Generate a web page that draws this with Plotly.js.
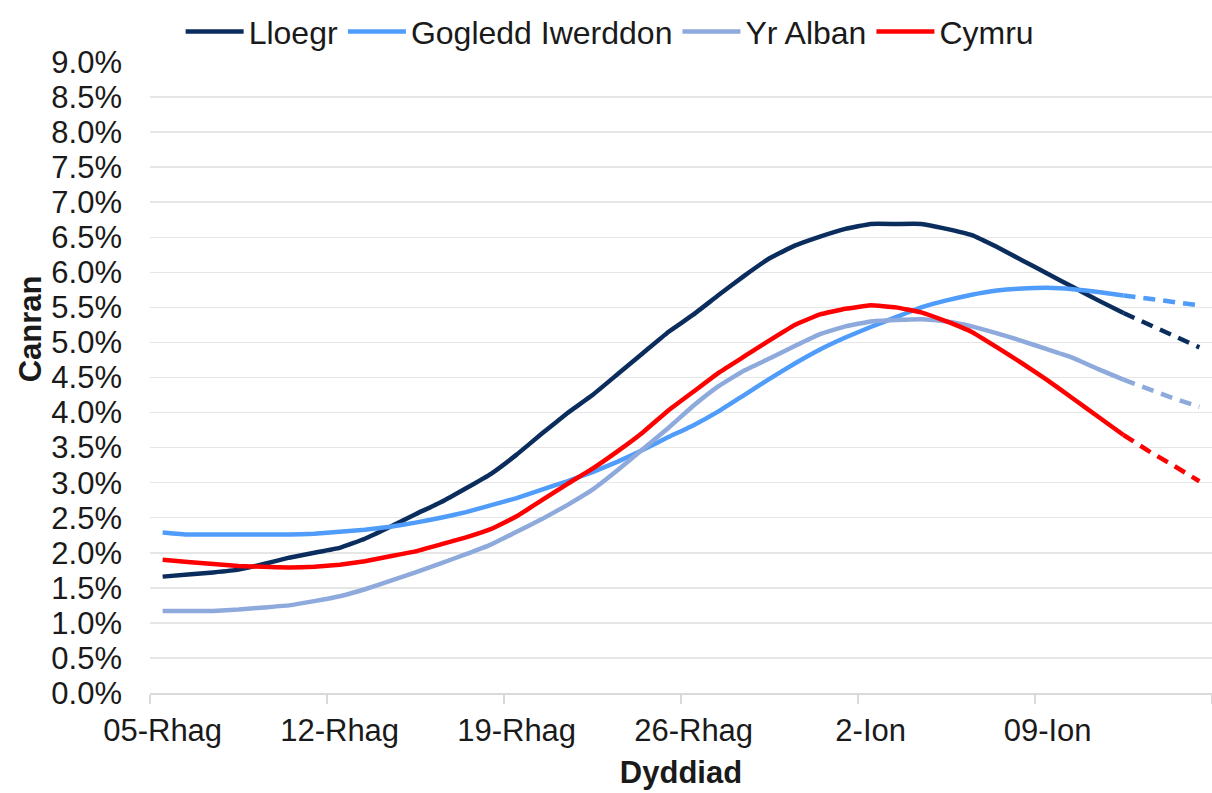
<!DOCTYPE html>
<html><head><meta charset="utf-8">
<script src="https://cdn.plot.ly/plotly-3.0.1.min.js"></script>
<style>html,body{margin:0;padding:0;background:#fff}#chart{width:1212px;height:793px}</style>
</head><body><div id="chart"></div>
<script>
// Daily dates 5 Dec 2020 .. 15 Jan 2021
const nDays = 42;
const dates = [];
for (let i = 0; i < nDays; i++) {
  const d = new Date(Date.UTC(2020, 11, 5 + i));
  dates.push(d.toISOString().slice(0, 10));
}
const projectionStart = 38; // index from which values are shown dashed

const tickDates = ['2020-12-05','2020-12-12','2020-12-19','2020-12-26','2021-01-02','2021-01-09'];
const tickLabels = ['05-Rhag','12-Rhag','19-Rhag','26-Rhag','2-Ion','09-Ion'];
const boundaryTicks = ['2020-12-04 12:00','2020-12-11 12:00','2020-12-18 12:00','2020-12-25 12:00','2021-01-01 12:00','2021-01-08 12:00','2021-01-15 12:00'];

const seriesNames = ['Lloegr','Gogledd Iwerddon','Yr Alban','Cymru'];
const lloegr = [1.66,1.69,1.72,1.76,1.84,1.93,2.00,2.07,2.20,2.37,2.55,2.72,2.92,3.13,3.40,3.70,3.99,4.25,4.55,4.85,5.15,5.40,5.68,5.95,6.20,6.38,6.51,6.62,6.69,6.69,6.69,6.62,6.53,6.36,6.17,5.98,5.79,5.60,5.42,5.26,5.10,4.93];
const gogleddIwerddon = [2.29,2.26,2.26,2.26,2.26,2.26,2.27,2.30,2.33,2.37,2.43,2.50,2.58,2.68,2.78,2.90,3.02,3.15,3.30,3.47,3.65,3.82,4.02,4.25,4.48,4.70,4.90,5.07,5.22,5.36,5.50,5.60,5.68,5.74,5.77,5.78,5.76,5.72,5.67,5.62,5.58,5.53];
const yrAlban = [1.17,1.17,1.17,1.19,1.22,1.25,1.31,1.38,1.48,1.60,1.72,1.85,1.98,2.12,2.30,2.48,2.68,2.90,3.18,3.48,3.78,4.10,4.38,4.60,4.77,4.95,5.12,5.23,5.30,5.32,5.33,5.30,5.23,5.13,5.02,4.90,4.78,4.62,4.47,4.33,4.20,4.08];
const cymru = [1.90,1.87,1.84,1.81,1.80,1.79,1.80,1.83,1.88,1.95,2.02,2.12,2.22,2.34,2.52,2.75,2.98,3.20,3.45,3.72,4.03,4.30,4.57,4.80,5.03,5.25,5.40,5.48,5.53,5.50,5.43,5.30,5.15,4.93,4.70,4.46,4.20,3.94,3.68,3.45,3.24,3.02];
const seriesValues = [lloegr, gogleddIwerddon, yrAlban, cymru];
const seriesColors = ['#0b2d5e','#4f9cfb','#8eaadc','#ff0000'];

const traces = [];
seriesValues.forEach((vals, k) => {
  traces.push({
    type: 'scatter', mode: 'lines', name: seriesNames[k],
    x: dates.slice(0, projectionStart + 1), y: vals.slice(0, projectionStart + 1),
    line: {color: seriesColors[k], width: 4.5, shape: 'spline', smoothing: 0.3},
    legendgroup: seriesNames[k], hoverinfo: 'x+y+name'
  });
  traces.push({
    type: 'scatter', mode: 'lines', name: seriesNames[k], showlegend: false,
    x: dates.slice(projectionStart), y: vals.slice(projectionStart),
    line: {color: seriesColors[k], width: 4.5, dash: '12px,8px'},
    legendgroup: seriesNames[k], hoverinfo: 'x+y+name'
  });
});

const font = {family: '"Liberation Sans", Arial, sans-serif', color: '#1a1a1a'};
const layout = {
  width: 1212, height: 793,
  margin: {l: 150, r: 0, t: 62, b: 100},
  paper_bgcolor: '#fff', plot_bgcolor: '#fff',
  font: Object.assign({size: 31}, font),
  showlegend: true,
  legend: {orientation: 'h', xref: 'container', yref: 'container', x: 0.503, xanchor: 'center', y: 0.96, yanchor: 'middle',
           font: Object.assign({size: 32}, font), itemwidth: 58, tracegroupgap: 10},
  xaxis: {
    type: 'date', range: ['2020-12-04 12:00', '2021-01-15 12:00'],
    tickmode: 'array', tickvals: tickDates, ticktext: tickLabels,
    ticks: '', showgrid: false, zeroline: false,
    showline: true, linecolor: '#d9d9d9', linewidth: 1.5,
    tickfont: Object.assign({size: 31}, font), ticklabelstandoff: 9,
    minor: {tickmode: 'array', tickvals: boundaryTicks, ticks: 'outside', ticklen: 9, tickcolor: '#d9d9d9', tickwidth: 1.5, showgrid: false},
    title: {text: 'Dyddiad', font: Object.assign({size: 31, weight: 'bold'}, font), standoff: 14},
    automargin: false, fixedrange: true
  },
  yaxis: {
    range: [0, 9], dtick: 0.5, tick0: 0, tickformat: '.1f', ticksuffix: '%',
    showgrid: true, gridcolor: '#e6e6e6', gridwidth: 1.5, zeroline: false, showline: false,
    ticks: '', tickfont: Object.assign({size: 31}, font), ticklabelstandoff: 27,
    automargin: false, fixedrange: true
  },
  annotations: [{
    text: '<b>Canran</b>', textangle: -90, xref: 'paper', yref: 'paper',
    x: -0.113, xanchor: 'center', y: 0.578, yanchor: 'middle', showarrow: false,
    font: Object.assign({size: 31}, font)
  }]
};

Plotly.newPlot('chart', traces, layout, {displayModeBar: false, staticPlot: true});
</script>
</body></html>
